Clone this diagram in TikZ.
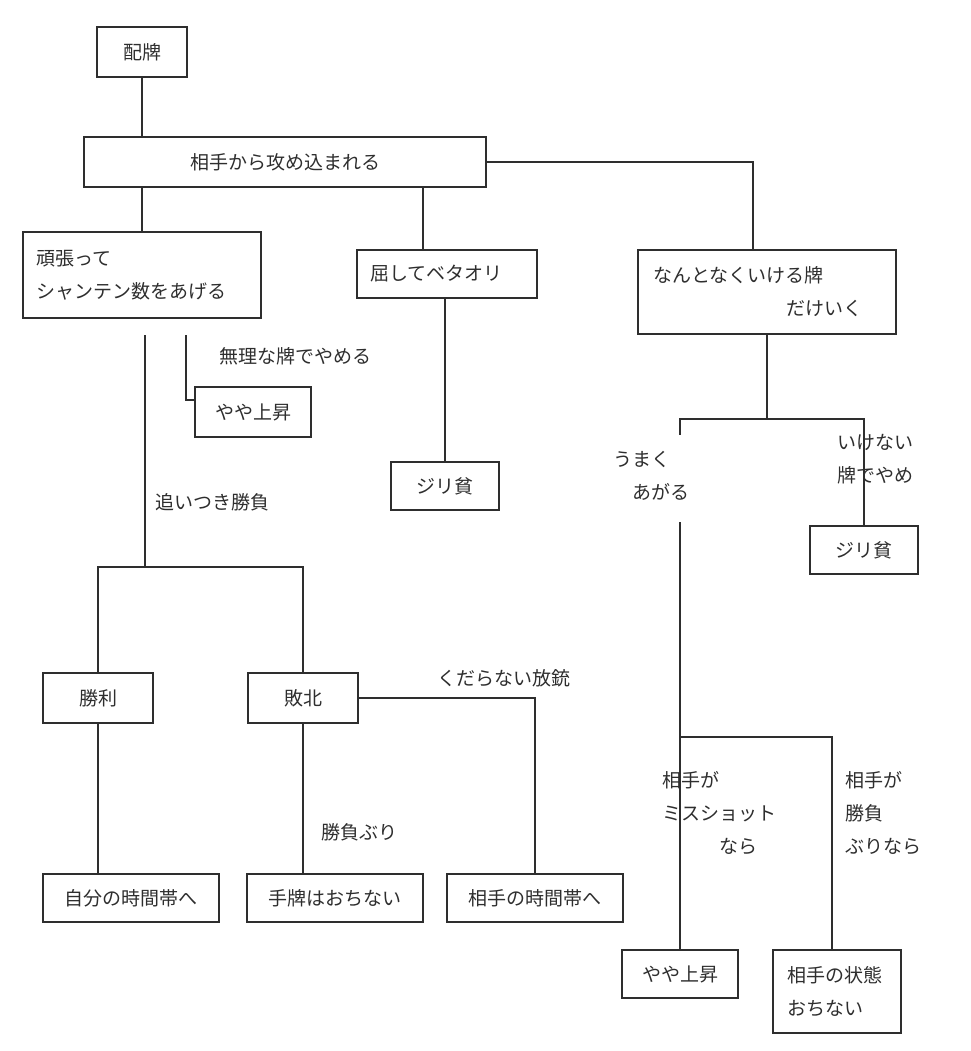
\documentclass[tikz,border=0pt]{standalone}
\usepackage{fontspec}
\setmainfont{Noto Sans CJK JP}
\usetikzlibrary{calc}
\definecolor{ink}{HTML}{2E2E2E}

\tikzset{
  stagebox/.style={draw=ink,line width=1.3pt,inner sep=0pt,text=ink,font=\fontsize{19}{33}\selectfont},
  cuetext/.style={text=ink,inner sep=0pt,align=left,anchor=west,font=\fontsize{19}{33}\selectfont},
  wire/.style={draw=ink,line width=1.3pt}
}

\begin{document}
\begin{tikzpicture}[x=1pt,y=-1pt]
\useasboundingbox (0,0) rectangle (970,1051);

\node[stagebox,minimum width=90,minimum height=50] (deal) at (142,52) {配牌};
\node[stagebox,minimum width=402,minimum height=50] (attack) at (285,162) {相手から攻め込まれる};

\node[stagebox,minimum width=238,minimum height=86,text width=212,align=left] (push) at (142,275) {頑張って\\シャンテン数をあげる};
\node[stagebox,minimum width=180,minimum height=48,text width=154,align=left] (fold) at (447,274) {屈してベタオリ};
\node[stagebox,minimum width=258,minimum height=84,text width=228,align=left] (vague) at (767,292) {なんとなくいける牌\\\hspace*{7em}だけいく};

\node[stagebox,minimum width=116,minimum height=50] (rise1) at (253,412) {やや上昇};
\node[stagebox,minimum width=108,minimum height=48] (poorA) at (445,486) {ジリ貧};
\node[stagebox,minimum width=108,minimum height=48] (poorB) at (864,550) {ジリ貧};

\node[stagebox,minimum width=110,minimum height=50] (win) at (98,698) {勝利};
\node[stagebox,minimum width=110,minimum height=50] (lose) at (303,698) {敗北};

\node[stagebox,minimum width=176,minimum height=48] (own) at (131,898) {自分の時間帯へ};
\node[stagebox,minimum width=176,minimum height=48] (hand) at (335,898) {手牌はおちない};
\node[stagebox,minimum width=176,minimum height=48] (opp) at (535,898) {相手の時間帯へ};

\node[stagebox,minimum width=116,minimum height=48] (rise2) at (680,974) {やや上昇};
\node[stagebox,minimum width=128,minimum height=83,text width=100,align=left] (state) at (837,991.5) {相手の状態\\おちない};

\node[cuetext] (quitcue) at (219,356) {無理な牌でやめる};
\node[cuetext] (chasecue) at (155,502) {追いつき勝負};
\node[cuetext] (dealincue) at (437,678) {くだらない放銃};
\node[cuetext] (fightcue) at (321,832) {勝負ぶり};
\node[cuetext] (luckcue) at (613,476) {うまく\\\hspace*{1em}あがる};
\node[cuetext] (stopcue) at (837,459) {いけない\\牌でやめ};
\node[cuetext] (misscue) at (662,813) {相手が\\ミスショット\\\hspace*{3em}なら};
\node[cuetext] (bravecue) at (845,813) {相手が\\勝負\\ぶりなら};

\draw[wire] (deal.south) -- (deal.south |- attack.north);
\draw[wire] (attack.east) -| ($(vague.north)+(-14,0)$);
\draw[wire] (push.north) -- (push.north |- attack.south);
\coordinate (foldin) at ($(fold.north)+(-24,0)$);
\draw[wire] (foldin |- attack.south) -- (foldin);
\draw[wire] (poorA.north |- fold.south) -- (poorA.north);

\coordinate (chase) at (145,335);
\coordinate (quit) at (186,335);
\coordinate (split) at (145,567);
\draw[wire] (quit) |- ($(rise1.west)+(0,-12)$);
\draw[wire] (chase) -- (split);
\draw[wire] (win.north) -- (win.north |- split) -- (lose.north |- split) -- (lose.north);
\draw[wire] (win.south) -- (win.south |- own.north);
\draw[wire] (lose.south) -- (lose.south |- hand.north);
\draw[wire] (lose.east) -| (opp.north);

\coordinate (fork) at (766,419);
\coordinate (resume) at (682,522);
\coordinate (rejoin) at (682,737);
\draw[wire] (vague.south) -- (vague.south |- fork);
\draw[wire] (poorB.north) |- (rise2.north |- fork) -- ++(0,16);
\draw[wire] (rise2.north |- resume) -- (rise2.north);
\draw[wire] (rise2.north |- rejoin) -| ($(state.north)+(-5,0)$);

\end{tikzpicture}
\end{document}
